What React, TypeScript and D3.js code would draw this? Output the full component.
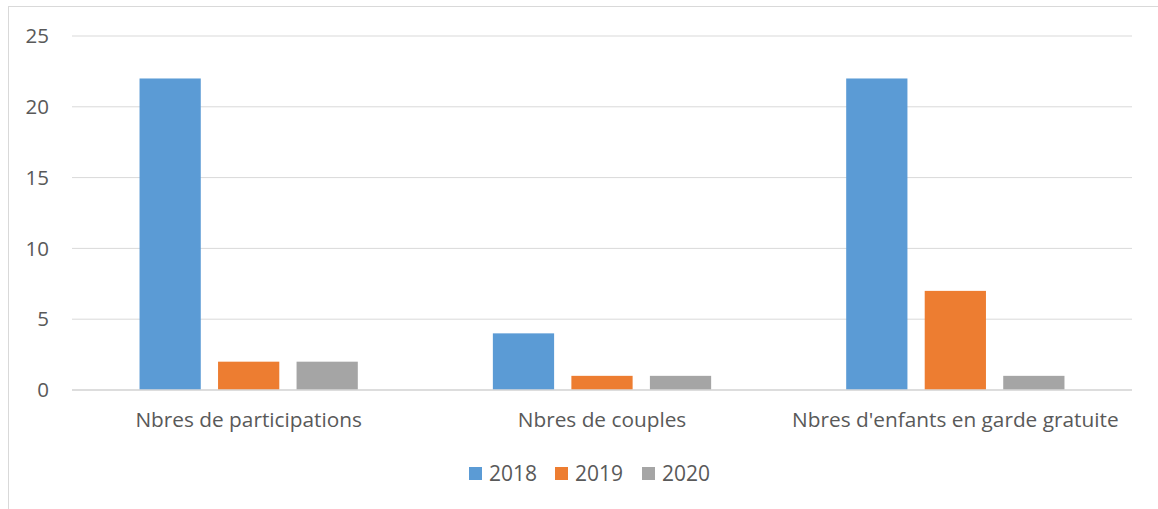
import React from "react";
import * as d3 from "d3";

const categories = ["Nbres de participations", "Nbres de couples", "Nbres d'enfants en garde gratuite"];
const seriesNames = ["2018", "2019", "2020"];
const values2018 = [22, 4, 22];
const values2019 = [2, 1, 7];
const values2020 = [2, 1, 1];
const yTicks = [0, 5, 10, 15, 20, 25];
const colors = ["#5B9BD5", "#ED7D31", "#A5A5A5"];

export default function App() {
  const W = 1158, H = 509;
  const left = 72, right = 1132, top = 36, bottom = 390;
  const series = [values2018, values2019, values2020];
  const x = d3.scaleBand<string>().domain(categories).range([left, right]).paddingInner(0).paddingOuter(0);
  const y = d3.scaleLinear().domain([0, 25]).range([bottom, top]);
  const inner = d3.scaleBand<string>().domain(seriesNames).range([0, x.bandwidth()]).paddingInner(0.22).paddingOuter(0.86);
  const font = "'Open Sans', sans-serif";
  const legendX = [469, 555, 642];
  return (
    <svg width={W} height={H} style={{ position: "absolute", left: 0, top: 0 }}>
      <rect x={0} y={0} width={W} height={H} fill="#fff" />
      <rect x={8.5} y={6.5} width={W + 10} height={H + 10} fill="none" stroke="#D9D9D9" strokeWidth={1} />
      {yTicks.map((t) => (
        <g key={t}>
          <line x1={left} x2={right} y1={y(t)} y2={y(t)} stroke="#D9D9D9" strokeWidth={1} />
          <text x={49} y={y(t)} dy="0.35em" textAnchor="end" fontFamily={font} fontSize={20.5} fill="#595959">{t}</text>
        </g>
      ))}
      {categories.map((c, ci) =>
        series.map((s, si) => (
          <rect key={c + si} x={(x(c) as number) + (inner(seriesNames[si]) as number)} width={inner.bandwidth()}
            y={y(s[ci])} height={y(0) - y(s[ci])} fill={colors[si]} />
        ))
      )}
      <line x1={left} x2={right} y1={y(0)} y2={y(0)} stroke="#D9D9D9" strokeWidth={1.5} />
      {categories.map((c) => (
        <text key={c} x={(x(c) as number) + x.bandwidth() / 2} y={427} textAnchor="middle" fontFamily={font} fontSize={20.8} fill="#595959">{c}</text>
      ))}
      {seriesNames.map((n, i) => (
        <g key={n}>
          <rect x={legendX[i]} y={467} width={13} height={13} fill={colors[i]} />
          <text x={legendX[i] + 20} y={481} fontFamily={font} fontSize={21} fill="#595959">{n}</text>
        </g>
      ))}
    </svg>
  );
}
